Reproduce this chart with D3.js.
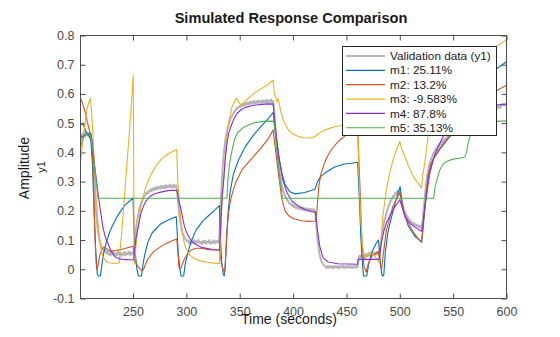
<!DOCTYPE html>
<html>
<head>
<meta charset="utf-8">
<script src="https://cdn.jsdelivr.net/npm/d3@7"></script>
<style>
  body { margin: 0; background: #fff; }
  svg { display: block; font-family: "Liberation Sans", Arial, Helvetica, sans-serif; }
</style>
</head>
<body>
<svg id="drawing_region" width="560" height="337"></svg>
<script>
// measured output (noisy) and five simulated model responses, [time, amplitude]
var valid = [
  [201,0.44],[202,0.462],[203,0.451],[204,0.468],[205,0.455],[206,0.471],[207,0.458],[208,0.467],[209,0.454],[210,0.463],[211,0.448],
  [212,0.41],[213,0.35],[214,0.28],[215,0.22],[216,0.17],[217,0.135],[218,0.11],[219,0.092],[220,0.083],[221,0.072],[222,0.069],[223,0.061],
  [224,0.066],[225,0.055],[226,0.062],[227,0.05],[228,0.058],[229,0.047],[230,0.061],[231,0.052],[232,0.058],[233,0.046],[234,0.055],[235,0.049],
  [236,0.06],[237,0.051],[238,0.057],[239,0.045],[240,0.054],[241,0.05],[242,0.059],[243,0.048],[244,0.056],[245,0.052],[246,0.061],[247,0.049],
  [248,0.057],[249,0.051],[250,0.058],[250.8,0.055],
  [251.5,0.09],[252.5,0.125],[253.5,0.158],[254.5,0.18],[255.5,0.198],[256.5,0.214],[257.5,0.225],[258.5,0.236],[259.5,0.242],[260.5,0.251],
  [261.5,0.254],[262.5,0.262],[263.5,0.259],[264.5,0.268],[265.5,0.265],[266.5,0.274],[267.5,0.268],[268.5,0.277],[269.5,0.271],[270.5,0.28],
  [271.5,0.273],[272.5,0.282],[273.5,0.275],[274.5,0.283],[275.5,0.276],[276.5,0.286],[277.5,0.278],[278.5,0.284],[279.5,0.277],[280.5,0.288],
  [281.5,0.279],[282.5,0.286],[283.5,0.281],[284.5,0.29],[285.5,0.28],[286.5,0.287],[287.5,0.279],[288.5,0.289],[289.5,0.282],[290.5,0.287],
  [291.5,0.26],[292.5,0.22],[293.5,0.185],[294.5,0.158],[295.5,0.139],[296.5,0.124],[297.5,0.115],[298.5,0.106],[299.5,0.102],[300.5,0.096],
  [301.5,0.099],[302.5,0.089],[303.5,0.097],[304.5,0.087],[305.5,0.095],[306.5,0.09],[307.5,0.099],[308.5,0.088],[309.5,0.096],[310.5,0.091],
  [311.5,0.1],[312.5,0.089],[313.5,0.094],[314.5,0.086],[315.5,0.097],[316.5,0.09],[317.5,0.098],[318.5,0.088],[319.5,0.095],[320.5,0.091],
  [321.5,0.1],[322.5,0.087],[323.5,0.094],[324.5,0.09],[325.5,0.099],[326.5,0.089],[327.5,0.096],[328.5,0.092],[329.5,0.098],[330.5,0.09],
  [331.5,0.15],[332.5,0.25],[333.5,0.32],[334.5,0.37],[335.5,0.41],[336.5,0.44],[337.5,0.462],[338.5,0.48],[339.5,0.495],[340.5,0.505],
  [341.5,0.516],[342.5,0.522],[343.5,0.531],[344.5,0.535],[345.5,0.544],[346.5,0.545],[347.5,0.553],[348.5,0.551],[349.5,0.559],[350.5,0.556],
  [351.5,0.564],[352.5,0.559],[353.5,0.567],[354.5,0.561],[355.5,0.569],[356.5,0.563],[357.5,0.571],[358.5,0.564],[359.5,0.573],[360.5,0.566],
  [361.5,0.574],[362.5,0.567],[363.5,0.576],[364.5,0.568],[365.5,0.575],[366.5,0.569],[367.5,0.578],[368.5,0.57],[369.5,0.576],[370.5,0.568],
  [371.5,0.579],[372.5,0.571],[373.5,0.577],[374.5,0.569],[375.5,0.58],[376.5,0.57],[377.5,0.578],[378.5,0.572],[379.5,0.581],[380.5,0.571],[381.5,0.576],
  [382.5,0.53],[383.5,0.47],[384.5,0.43],[385.5,0.39],[386.5,0.355],[387.5,0.33],[388.5,0.305],[389.5,0.287],[390.5,0.272],[391.5,0.262],
  [392.5,0.25],[393.5,0.245],[394.5,0.236],[395.5,0.233],[396.5,0.225],[397.5,0.226],[398.5,0.218],[399.5,0.222],[400.5,0.213],[401.5,0.219],
  [402.5,0.21],[403.5,0.216],[404.5,0.207],[405.5,0.214],[406.5,0.205],[407.5,0.212],[408.5,0.204],[409.5,0.211],[410.5,0.202],[411.5,0.209],
  [412.5,0.201],[413.5,0.208],[414.5,0.2],[415.5,0.207],[416.5,0.199],[417.5,0.206],[418.5,0.198],[419.5,0.205],[420.5,0.199],
  [421.5,0.17],[422.5,0.12],[423.5,0.085],[424.5,0.058],[425.5,0.04],[426.5,0.028],[427.5,0.02],[428.5,0.016],[429.5,0.012],
  [430.5,0.01],[431.5,0.004],[432.5,0.011],[433.5,0.005],[434.5,0.012],[435.5,0.006],[436.5,0.01],[437.5,0.003],[438.5,0.011],[439.5,0.006],
  [440.5,0.012],[441.5,0.005],[442.5,0.01],[443.5,0.004],[444.5,0.011],[445.5,0.007],[446.5,0.012],[447.5,0.005],[448.5,0.01],[449.5,0.004],
  [450.5,0.011],[451.5,0.006],[452.5,0.012],[453.5,0.005],[454.5,0.01],[455.5,0.004],[456.5,0.011],[457.5,0.006],[458.5,0.012],[459.5,0.005],[460.5,0.009],
  [461.5,0.04],[462.5,0.047],[463.5,0.04],[464.5,0.049],[465.5,0.042],[466.5,0.05],[467.5,0.043],[468.5,0.052],[469.5,0.044],[470.5,0.055],
  [471.5,0.046],[472.5,0.056],[473.5,0.048],[474.5,0.058],[475.5,0.05],[476.5,0.057],[477.5,0.051],[478.5,0.059],[479.5,0.052],[480.5,0.058],
  [481.5,0.075],[482.5,0.1],[483.5,0.125],[484.5,0.145],[485.5,0.165],[486.5,0.178],[487.5,0.195],[488.5,0.203],[489.5,0.218],[490.5,0.222],
  [491.5,0.236],[492.5,0.238],[493.5,0.25],[494.5,0.248],[495.5,0.26],[496.5,0.257],[497.5,0.268],[498.5,0.262],[499.5,0.27],[500.5,0.262],
  [501.5,0.24],[502.5,0.222],[503.5,0.21],[504.5,0.198],[505.5,0.192],[506.5,0.182],[507.5,0.179],[508.5,0.17],[509.5,0.169],[510.5,0.161],
  [511.5,0.162],[512.5,0.155],[513.5,0.157],[514.5,0.15],[515.5,0.153],[516.5,0.146],[517.5,0.15],[518.5,0.143],[519.5,0.148],[520.5,0.142],
  [521.5,0.17],[522.5,0.21],[523.5,0.25],[524.5,0.285],[525.5,0.315],[526.5,0.335],[527.5,0.356],[528.5,0.365],[529.5,0.38],[530.5,0.385],
  [531.5,0.398],[532.5,0.4],[533.5,0.412],[534.5,0.41],[535.5,0.422],[536.5,0.42],[537.5,0.431],[538.5,0.428],[539.5,0.44],[540.5,0.436],
  [542,0.447],[543.5,0.445],[545,0.456],[546.5,0.452],[548,0.464],[549.5,0.46],[551,0.472],[552.5,0.468],[554,0.48],[555.5,0.475],
  [557,0.487],[558.5,0.482],[560,0.494],[562,0.49],[564,0.502],[566,0.498],[568,0.51],[570,0.506],[572,0.518],[574,0.514],
  [576,0.526],[578,0.521],[580,0.533],[582,0.528],[584,0.54],[586,0.535],[588,0.547],[590,0.543],[592,0.556],[594,0.552],[596,0.566],[598,0.56],[600,0.568]
];

var m1 = [
  [201,0.495],[203,0.497],[205,0.48],[207,0.463],[209,0.456],[210.5,0.44],[212,0.36],[213.5,0.2],[215,0.07],[216.5,-0.015],[217.5,-0.023],
  [219.5,-0.023],[221,0.02],[222.5,0.055],[225,0.093],[229,0.136],[235,0.18],[242,0.218],[250,0.244],[250.8,0.15],[252,0.06],[253.5,0.005],
  [255,-0.023],[258,-0.023],[259.5,0.02],[261,0.05],[264,0.093],[268,0.125],[276,0.155],[284,0.17],[290.5,0.18],[291.5,0.12],[292.5,0.05],
  [294,0.0],[295,-0.023],[297.5,-0.023],[299,0.02],[301,0.05],[304,0.09],[309,0.134],[315,0.163],[321,0.184],[327,0.204],[331,0.218],
  [331.8,0.12],[333,0.03],[334.5,-0.015],[335.5,-0.023],[336.5,0.02],[337.5,0.09],[339,0.19],[341,0.265],[344,0.325],[349,0.375],[355,0.418],
  [363,0.46],[371,0.493],[377,0.516],[381.5,0.537],[383,0.48],[386.5,0.39],[389.5,0.33],[392.5,0.29],[397,0.265],[402,0.258],[411,0.263],
  [420.5,0.274],[423,0.3],[426,0.318],[430,0.33],[439,0.35],[448,0.36],[455,0.363],[460.5,0.366],[462,0.25],[463.5,0.11],[465,0.02],
  [466,-0.023],[469,-0.023],[471,0.02],[474,0.06],[478,0.09],[480,0.1],[481.5,0.04],[483,-0.015],[484,-0.023],[485,-0.02],[486.5,0.06],
  [489,0.13],[493,0.19],[497,0.245],[500.3,0.283],[503,0.205],[508,0.148],[514,0.113],[520.5,0.094],[521.8,0.14],[523.5,0.21],[526.5,0.305],
  [531,0.375],[537.5,0.41],[545,0.445],[555,0.5],[565,0.56],[578,0.63],[591,0.687],[600,0.71]
];

var m2 = [
  [201,0.585],[203,0.565],[205,0.54],[207.5,0.5],[209.5,0.47],[211,0.45],[212.5,0.36],[213.5,0.22],[214.5,0.1],[215.5,0.02],[216.5,-0.003],
  [217.5,0.02],[219,0.05],[221,0.07],[223,0.076],[226,0.068],[229,0.062],[234,0.064],[239,0.068],[244,0.073],[250,0.079],[251,0.05],
  [252.5,0.023],[255,0.008],[258.5,-0.006],[260,0.0],[262,0.02],[264,0.035],[267,0.05],[270,0.062],[275,0.075],[280,0.086],[285,0.095],
  [291,0.104],[292,0.06],[293,0.01],[294,0.0],[295,0.005],[296.5,0.02],[298,0.034],[301,0.052],[304.5,0.066],[309,0.072],[314,0.072],
  [320,0.068],[326,0.066],[331,0.066],[332,0.04],[333.5,0.01],[335,-0.005],[336,-0.011],[337,0.05],[338,0.13],[339.5,0.19],[341,0.227],
  [343,0.26],[346,0.295],[352,0.34],[361.5,0.38],[371,0.42],[377,0.448],[381.3,0.477],[383.5,0.41],[386.5,0.32],[389.5,0.24],[392.5,0.2],
  [396,0.183],[400,0.174],[408,0.166],[415,0.164],[421,0.165],[422.3,0.2],[424,0.28],[426,0.325],[429,0.36],[432,0.385],[437,0.415],
  [443,0.44],[450,0.46],[456,0.475],[460.5,0.485],[462.5,0.3],[464.5,0.1],[466.5,0.01],[468.5,-0.01],[470.5,0.02],[474,0.045],[478,0.055],
  [480,0.06],[481.5,0.02],[483,0.0],[484.5,0.05],[487.5,0.135],[493.5,0.215],[500,0.262],[504.5,0.185],[511,0.137],[516,0.11],[520.3,0.092],
  [522,0.15],[523.5,0.215],[526.5,0.32],[529,0.36],[532.8,0.386],[537.5,0.415],[541,0.432],[547,0.455],[555,0.49],[565,0.53],[578,0.575],
  [591,0.612],[600,0.63]
];

var m3 = [
  [201,0.375],[203,0.44],[205,0.5],[207,0.55],[208.5,0.57],[210,0.585],[211,0.55],[212.2,0.477],[213.8,0.36],[215.3,0.25],[217,0.17],
  [218.4,0.113],[220,0.07],[221.6,0.045],[224,0.03],[226.5,0.023],[232,0.02],[237,0.022],[237.8,0.06],[240,0.15],[243,0.3],[246,0.44],
  [248,0.54],[250.2,0.664],[250.6,0.4],[251,0.1],[251.4,0.017],[252.5,0.07],[254.4,0.136],[257.5,0.215],[260,0.255],[262.2,0.284],[265,0.31],
  [268.4,0.335],[272,0.356],[276.3,0.375],[280,0.387],[284,0.397],[288,0.405],[291,0.41],[292,0.3],[293.5,0.23],[295,0.16],[296.5,0.12],
  [298,0.09],[300,0.068],[302.8,0.05],[306,0.04],[309,0.034],[315,0.027],[320,0.024],[326,0.021],[331,0.02],[331.8,0.08],[333,0.2],
  [335,0.31],[336.5,0.39],[338,0.454],[340,0.51],[342.8,0.556],[345,0.575],[347,0.585],[349,0.572],[351.5,0.562],[354,0.57],[358,0.585],
  [363,0.6],[368,0.613],[375.5,0.63],[381.3,0.647],[382.5,0.6],[384,0.585],[385,0.573],[386,0.585],[387,0.565],[388.5,0.54],[390.5,0.515],
  [393,0.494],[396,0.475],[399,0.465],[405,0.454],[410,0.45],[415,0.449],[419,0.452],[421,0.456],[425,0.467],[430,0.477],[439,0.488],
  [448,0.494],[455,0.5],[460.5,0.505],[461.5,0.35],[463,0.2],[465,0.08],[467,0.035],[469,0.045],[472,0.057],[476.6,0.045],[481,0.022],
  [482.5,0.1],[484,0.18],[487.5,0.272],[490,0.32],[493.7,0.375],[497,0.41],[500,0.437],[502,0.41],[504.7,0.386],[508,0.355],[511,0.33],
  [514,0.31],[517.2,0.295],[520.3,0.278],[521.5,0.32],[523.4,0.363],[526.6,0.457],[530,0.52],[535,0.57],[540,0.6],[550,0.65],[560,0.69],
  [575,0.73],[591,0.763],[600,0.785]
];

var m4 = [
  [201,0.45],[203,0.455],[205,0.46],[208,0.463],[210.3,0.466],[211.5,0.44],[213,0.38],[215.3,0.318],[218.4,0.227],[221.6,0.148],[224,0.11],
  [226.3,0.091],[229,0.065],[232.5,0.045],[236,0.037],[240,0.034],[250.6,0.032],[251.5,0.07],[253,0.11],[254.4,0.136],[257.5,0.193],
  [260,0.218],[262.2,0.233],[265,0.246],[268.4,0.255],[272,0.26],[276,0.264],[284,0.27],[291.2,0.27],[293,0.235],[295,0.204],[298,0.15],
  [300,0.127],[302.8,0.108],[306,0.093],[309,0.085],[315,0.074],[321,0.07],[326,0.067],[331,0.066],[332,0.13],[333.5,0.25],[335,0.306],
  [336.5,0.38],[338,0.43],[340,0.47],[342.8,0.499],[345,0.518],[347.5,0.533],[351,0.545],[355.3,0.554],[360,0.559],[364.7,0.562],[374,0.565],
  [381.3,0.566],[383.4,0.488],[386.6,0.386],[390.3,0.306],[394.4,0.261],[399,0.233],[405.3,0.216],[411.6,0.204],[417,0.198],[421,0.195],
  [422.8,0.136],[425,0.079],[428,0.04],[432.8,0.025],[442,0.019],[460.5,0.017],[461,0.034],[467,0.034],[480.6,0.034],[482.8,0.091],
  [485,0.13],[487.5,0.159],[491,0.185],[493.7,0.204],[500,0.238],[504.7,0.182],[508,0.165],[511,0.153],[516,0.14],[520.3,0.13],[521.5,0.15],
  [523,0.2],[525,0.25],[528,0.329],[532.8,0.392],[537.5,0.431],[540.6,0.454],[546.9,0.482],[556,0.511],[565.6,0.533],[575,0.547],
  [587.5,0.561],[600,0.565]
];

var m5 = [
  [201,0.42],[202.5,0.44],[204.5,0.456],[206.5,0.462],[208.5,0.463],[210,0.46],[212.8,0.4],[215,0.32],[217.2,0.243],[338,0.243],[339,0.31],
  [340.5,0.363],[343,0.41],[345,0.443],[348,0.468],[354.5,0.488],[364,0.502],[373,0.506],[382,0.507],[383.5,0.46],[385,0.4],[386.5,0.35],
  [388,0.3],[390,0.243],[531.8,0.243],[533,0.28],[534.4,0.301],[537.5,0.34],[540,0.357],[543.8,0.369],[550,0.377],[556,0.38],[561,0.384],
  [562.5,0.4],[564,0.431],[567,0.471],[572,0.494],[581,0.503],[590,0.506],[600,0.508]
];

var names = ["Validation data (y1)", "m1: 25.11%", "m2: 13.2%", "m3: -9.583%", "m4: 87.8%", "m5: 35.13%"];
var colors = ["#b5b5b5", "#0072bd", "#d95319", "#edb120", "#8a2be2", "#4db34d"];
var xTicks = [250, 300, 350, 400, 450, 500, 550, 600];
var yTicks = [-0.1, 0, 0.1, 0.2, 0.3, 0.4, 0.5, 0.6, 0.7, 0.8];

var series = [valid, m1, m2, m3, m4, m5].map((d, i) => ({
  name: names[i], color: colors[i], values: d, width: i == 0 ? 2 : 1.1
}));

var svg = d3.select('#drawing_region');
const plotL = 80.5, plotR = 506.5, plotT = 35.5, plotB = 298.5;

const xscale = d3.scaleLinear().domain([200.8, 600]).range([plotL, plotR]);
const yscale = d3.scaleLinear().domain([-0.1, 0.8]).range([plotB, plotT]);

const axisColor = "#4d4d4d";
const fmt = v => Math.abs(v) < 1e-9 ? "0" : String(+v.toFixed(1));

// ticks point inward on all four sides
function styleAxis(g) {
  g.select(".domain").remove();
  g.selectAll(".tick line").attr("stroke", axisColor);
  g.selectAll(".tick text").attr("fill", "#4a4a4a").style("font-size", "12.5px");
}

svg.append('g')
  .attr('transform', `translate(0, ${plotB})`)
  .call(d3.axisBottom(xscale).tickValues(xTicks).tickSizeInner(-5).tickSizeOuter(0).tickPadding(9))
  .call(styleAxis);
svg.append('g')
  .attr('transform', `translate(0, ${plotT})`)
  .call(d3.axisTop(xscale).tickValues(xTicks).tickSizeInner(-5).tickSizeOuter(0).tickFormat(""))
  .call(styleAxis);
svg.append('g')
  .attr('transform', `translate(${plotL}, 0)`)
  .call(d3.axisLeft(yscale).tickValues(yTicks).tickSizeInner(-5).tickSizeOuter(0).tickPadding(6).tickFormat(fmt))
  .call(styleAxis);
svg.append('g')
  .attr('transform', `translate(${plotR}, 0)`)
  .call(d3.axisRight(yscale).tickValues(yTicks).tickSizeInner(-5).tickSizeOuter(0).tickFormat(""))
  .call(styleAxis);

svg.append("clipPath").attr("id", "plotclip")
  .append("rect").attr("x", plotL).attr("y", plotT).attr("width", plotR - plotL).attr("height", plotB - plotT);

const line = d3.line().x(d => xscale(d[0])).y(d => yscale(d[1]));

svg.append("g").attr("clip-path", "url(#plotclip)")
  .selectAll("path")
  .data(series)
  .join("path")
  .attr("fill", "none")
  .attr("stroke", d => d.color)
  .attr("stroke-width", d => d.width)
  .attr("stroke-linejoin", "round")
  .attr("d", d => line(d.values));

// axes box
svg.append("rect")
  .attr("x", plotL).attr("y", plotT)
  .attr("width", plotR - plotL).attr("height", plotB - plotT)
  .attr("fill", "none").attr("stroke", axisColor).attr("stroke-width", 1);

// legend
var lg = svg.append("g");
lg.append("rect")
  .attr("x", 342.5).attr("y", 46.5).attr("width", 154).attr("height", 89)
  .attr("fill", "#fff").attr("stroke", "#262626").attr("stroke-width", 1);
var rows = lg.selectAll("g.row").data(series).join("g")
  .attr("class", "row")
  .attr("transform", (d, i) => `translate(0, ${56 + i * 14.35})`);
rows.append("line")
  .attr("x1", 346).attr("x2", 385).attr("y1", 0).attr("y2", 0)
  .attr("stroke", d => d.color).attr("stroke-width", (d, i) => i == 0 ? 2 : 1.2);
rows.append("text")
  .attr("x", 390).attr("y", 0).attr("dy", "0.35em")
  .style("font-size", "11.8px").attr("fill", "#1a1a1a")
  .text(d => d.name);

// title and axis labels
svg.append("text")
  .attr("x", 291).attr("y", 22.5).attr("text-anchor", "middle")
  .style("font-size", "14.6px").style("font-weight", "bold").attr("fill", "#1a1a1a")
  .text("Simulated Response Comparison");
svg.append("text")
  .attr("x", 289).attr("y", 324).attr("text-anchor", "middle")
  .style("font-size", "14px").attr("fill", "#1a1a1a")
  .text("Time (seconds)");
svg.append("text")
  .attr("transform", "translate(28.5, 168) rotate(-90)").attr("text-anchor", "middle")
  .style("font-size", "14px").attr("fill", "#1a1a1a")
  .text("Amplitude");
svg.append("text")
  .attr("transform", "translate(45, 167) rotate(-90)").attr("text-anchor", "middle")
  .style("font-size", "11px").attr("fill", "#1a1a1a")
  .text("y1");
</script>
</body>
</html>
